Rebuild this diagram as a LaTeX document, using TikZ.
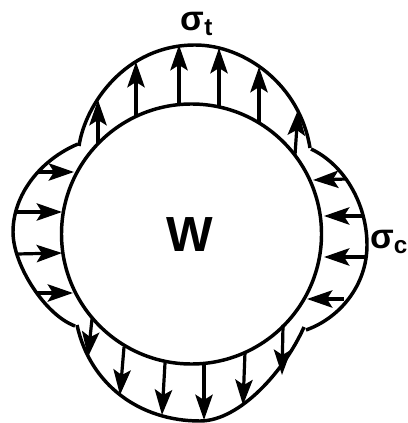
\documentclass[tikz,border=0pt]{standalone}
\usepackage{fontspec}
\setmainfont{Liberation Sans}
\usetikzlibrary{arrows.meta}

\tikzset{
    outline/.style={line width=2.6pt, line join=round},
    stressarrow/.style={line width=2.4pt, -{Stealth[length=19pt, width=13pt, inset=4pt]}},
    label/.style={inner sep=0pt, font=\bfseries}
}

\begin{document}
\begin{tikzpicture}[x=0.75pt, y=-0.75pt]
\useasboundingbox (0,0) rectangle (407,423);

% Hole
\draw[outline] (191.5,234) circle[radius=130];
\node[label, font=\bfseries\fontsize{37}{37}\selectfont] (hole) at (190,235) {W};

% Tension lobes
\draw[outline] (79,146) .. controls (85,105) and (125,45) .. (195,45) .. controls (245,45) and (300,85) .. (310,148);
\draw[outline] (77,325) .. controls (90,385) and (140,421) .. (200,421) .. controls (240,421) and (285,370) .. (304,327);

% Compression lobes
\draw[outline] (78,144) .. controls (40,160) and (13,195) .. (13,232) .. controls (13,265) and (45,315) .. (75,326);
\draw[outline] (311,149) .. controls (345,165) and (367,205) .. (367,245) .. controls (367,285) and (340,318) .. (306,330);

% Top arrows
\foreach \xa/\ya/\xb/\yb in {98/143/98/100, 136/116/136/62, 179/105/179/45, 219/107/219/48, 259/122/259/67, 295/155/298/110}
    \draw[stressarrow] (\xa,\ya) -- (\xb,\yb);

% Bottom arrows
\foreach \xa/\ya/\xb/\yb in {92/319/88/357, 124/347/120/395, 165/363/162/415, 204/365/204/420, 245/352/243/405, 283/325/282/375}
    \draw[stressarrow] (\xa,\ya) -- (\xb,\yb);

% Left arrows
\foreach \xa/\ya/\xb/\yb in {38/172/74/172, 17/212/62/212, 17/254/62/253, 36/293/73/293}
    \draw[stressarrow] (\xa,\ya) -- (\xb,\yb);

% Right arrows
\foreach \xa/\ya/\xb/\yb in {347/179/313/180, 362/216/324/216, 366/257/324/257, 344/299/307/299}
    \draw[stressarrow] (\xa,\ya) -- (\xb,\yb);

% Stress labels
\node[label, font=\bfseries\fontsize{26}{26}\selectfont] (sigmat) at (197,24) {σ\textsubscript{t}};
\node[label, font=\bfseries\fontsize{26}{26}\selectfont] (sigmac) at (389,242) {σ\textsubscript{c}};
\end{tikzpicture}
\end{document}
